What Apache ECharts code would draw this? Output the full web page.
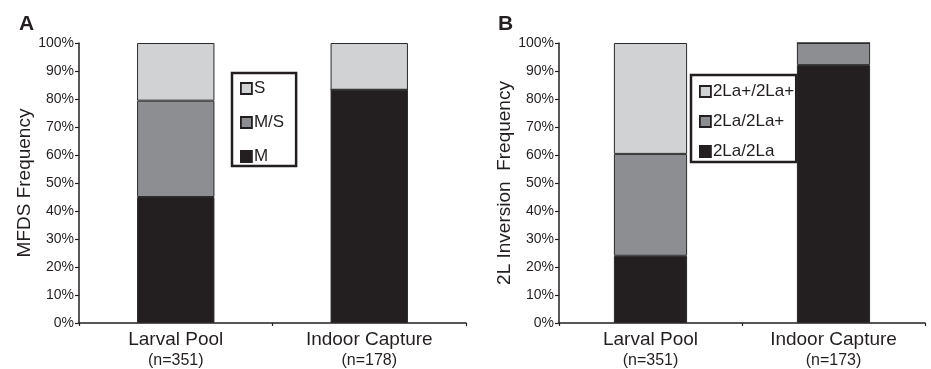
<!DOCTYPE html>
<html><head><meta charset="utf-8">
<script src="https://cdn.jsdelivr.net/npm/echarts@6/dist/echarts.min.js"></script>
<style>html,body{margin:0;padding:0;background:#fff}#c{width:931px;height:369px}</style>
</head><body><div id="c"></div>
<script>
// Panel A data
const catsA = ['Larval Pool', 'Indoor Capture'];
const nA = ['(n=351)', '(n=178)'];
const mA = [45.0, 83.3];
const msA = [34.4, 0];
const sA = [20.6, 16.7];
// Panel B data
const catsB = ['Larval Pool', 'Indoor Capture'];
const nB = ['(n=351)', '(n=173)'];
const homInvB = [24.0, 92.1];   // 2La/2La
const hetB = [36.4, 7.9];       // 2La/2La+
const homStdB = [39.6, 0];      // 2La+/2La+
const yTicks = [0, 10, 20, 30, 40, 50, 60, 70, 80, 90, 100];

const FONT = 'Liberation Sans, Arial, sans-serif';
const C_DARK = '#231f20', C_MID = '#8d8e91', C_LIGHT = '#d1d2d4';
const ink = '#231f20';

function yAxis(gi, name, gap) {
  return {
    type: 'value', gridIndex: gi, min: yTicks[0], max: yTicks[yTicks.length - 1], interval: 10,
    name: name, nameLocation: 'middle', nameGap: gap,
    nameTextStyle: { fontFamily: FONT, fontSize: 19, color: ink },
    axisLine: { show: true, lineStyle: { color: ink, width: 1.5 } },
    axisTick: { show: true, length: 4, lineStyle: { color: ink, width: 1.2 } },
    axisLabel: { formatter: '{value}%', fontFamily: FONT, fontSize: 14, color: ink, margin: 5 },
    splitLine: { show: false }
  };
}
function xAxis(gi, cats, ns) {
  return {
    type: 'category', gridIndex: gi, data: cats,
    axisLine: { show: true, lineStyle: { color: ink, width: 1.5 } },
    axisTick: { show: true, length: 3, lineStyle: { color: ink, width: 1.2 } },
    axisLabel: {
      interval: 0, margin: 6,
      formatter: (v, i) => '{a|' + v + '}\n{b|' + ns[i] + '}',
      rich: {
        a: { fontFamily: FONT, fontSize: 19, color: ink, lineHeight: 22 },
        b: { fontFamily: FONT, fontSize: 16, color: ink, lineHeight: 20 }
      }
    }
  };
}
function bar(name, data, gi, color) {
  return {
    type: 'bar', name: name, data: data, xAxisIndex: gi, yAxisIndex: gi,
    stack: 's' + gi, barWidth: '40%',
    itemStyle: { color: color, borderColor: '#2a2a2a', borderWidth: 1 }
  };
}
function legend(items, left, top, pad, gap) {
  return {
    data: items, orient: 'vertical', left: left, top: top,
    icon: 'rect', itemWidth: 11, itemHeight: 11, itemGap: gap,
    itemStyle: { borderColor: ink, borderWidth: 1.8 },
    padding: pad, borderColor: ink, borderWidth: 2.5,
    textStyle: { fontFamily: FONT, fontSize: 17, color: ink, padding: [0, 0, 0, -3] }
  };
}

const chart = echarts.init(document.getElementById('c'), null, { renderer: 'canvas' });
chart.setOption({
  animation: false,
  backgroundColor: '#fff',
  title: [
    { text: 'A', left: 14, top: 9, textStyle: { fontFamily: FONT, fontSize: 21, fontWeight: 'bold', color: ink } },
    { text: 'B', left: 493, top: 9, textStyle: { fontFamily: FONT, fontSize: 21, fontWeight: 'bold', color: ink } }
  ],
  grid: [
    { left: 79, right: 465, top: 43, bottom: 46 },
    { left: 559, right: 6, top: 43, bottom: 46 }
  ],
  xAxis: [xAxis(0, catsA, nA), xAxis(1, catsB, nB)],
  yAxis: [yAxis(0, 'MFDS Frequency', 43), yAxis(1, '2L Inversion  Frequency', 43)],
  legend: [
    legend(['S', 'M/S', 'M'], 232, 73, [7, 12, 1, 8], 17),
    legend(['2La+/2La+', '2La/2La+', '2La/2La'], 691, 75, [8, 2, 2, 8], 13)
  ],
  series: [
    bar('M', mA, 0, C_DARK),
    bar('M/S', msA, 0, C_MID),
    bar('S', sA, 0, C_LIGHT),
    bar('2La/2La', homInvB, 1, C_DARK),
    bar('2La/2La+', hetB, 1, C_MID),
    bar('2La+/2La+', homStdB, 1, C_LIGHT)
  ]
});
</script></body></html>
